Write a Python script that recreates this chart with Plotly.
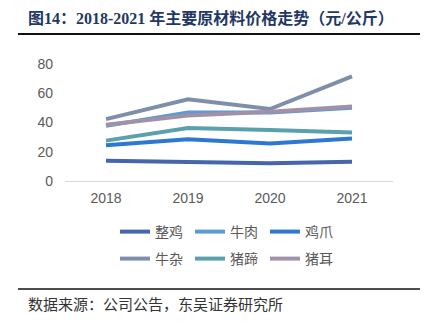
import plotly.graph_objects as go

years = ["2018", "2019", "2020", "2021"]
names = ["整鸡", "牛肉", "鸡爪", "牛杂", "猪蹄", "猪耳"]
zhengji = [13.8, 13.3, 12.2, 13.1]
niurou = [37.7, 46.9, 46.9, 50.1]
jizhua = [24.4, 28.5, 25.7, 29.0]
niuza = [42.3, 55.9, 49.2, 71.5]
zhuti = [27.6, 36.3, 34.9, 33.1]
zhuer = [38.4, 44.8, 47.4, 51.0]
series = [zhengji, niurou, jizhua, niuza, zhuti, zhuer]
colors = ["#4565ad", "#5b9bd5", "#2e78d2", "#7f8fa9", "#5aa0ad", "#a090a8"]
y_ticks = [0, 20, 40, 60, 80]

title = "图14：2018-2021 年主要原材料价格走势（元/公斤）"
source = "数据来源：公司公告，东吴证券研究所"

fig = go.Figure()
for i, (n, v, c) in enumerate(zip(names, series, colors)):
    fig.add_trace(go.Scatter(
        x=years, y=v, name=n, mode="lines",
        line=dict(color=c, width=4),
        legend="legend" if i < 3 else "legend2",
    ))

W, H = 431, 326
L, R, T, B = 65, 38, 64, 145

def px_x(p):
    return (p - L) / (W - L - R)

def px_y(p):
    return (H - B - p) / (H - T - B)

tickfont = dict(family="Liberation Sans", size=14, color="#595959")
fig.update_layout(
    width=W, height=H,
    margin=dict(l=L, r=R, t=T, b=B),
    paper_bgcolor="white", plot_bgcolor="white",
    font=dict(family="Noto Sans CJK SC", color="#595959", size=14),
    xaxis=dict(type="category", showgrid=False, showline=True, linecolor="#d9d9d9",
               linewidth=1, ticks="", tickfont=tickfont, range=[-0.5, 3.5],
               ticklabelstandoff=4),
    yaxis=dict(range=[0, 80], tickvals=y_ticks, showgrid=False, zeroline=False,
               showline=False, ticks="", tickfont=tickfont, ticklabelstandoff=11),
    legend=dict(orientation="h", x=px_x(115), y=px_y(232),
                xanchor="left", yanchor="middle", entrywidth=30, font=dict(size=14, color="#595959"),
                bgcolor="rgba(0,0,0,0)", itemwidth=30),
    legend2=dict(orientation="h", x=px_x(115), y=px_y(259),
                 xanchor="left", yanchor="middle", entrywidth=30, font=dict(size=14, color="#595959"),
                 bgcolor="rgba(0,0,0,0)", itemwidth=30),
    showlegend=True,
)

fig.add_annotation(text="<b>" + title + "</b>", xref="paper", yref="paper", x=px_x(26), y=px_y(18),
                   xanchor="left", yanchor="middle", showarrow=False,
                   font=dict(family="Liberation Serif, Noto Sans CJK SC", size=16, color="#1f3864"))
fig.add_annotation(text=source, xref="paper", yref="paper", x=px_x(26), y=px_y(303),
                   xanchor="left", yanchor="middle", showarrow=False,
                   font=dict(family="Noto Sans CJK SC", size=15, color="#333333"))
fig.add_shape(type="line", xref="paper", yref="paper", x0=px_x(18), x1=px_x(420),
              y0=px_y(34), y1=px_y(34), line=dict(color="#111111", width=2))
fig.add_shape(type="line", xref="paper", yref="paper", x0=px_x(18), x1=px_x(420),
              y0=px_y(289), y1=px_y(289), line=dict(color="#111111", width=1.5))

fig.write_html("out.html")
